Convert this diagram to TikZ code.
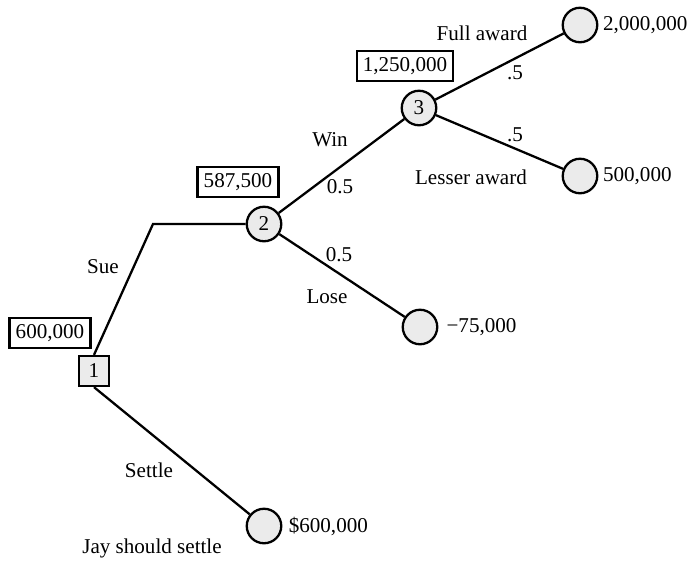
\documentclass[tikz,border=0pt]{standalone}
\usepackage{fontspec}
\setmainfont{Liberation Serif}
\usepackage{tikz}

\begin{document}
\begin{tikzpicture}[x=0.2mm, y=-0.2mm, line width=1.3pt, font=\fontsize{12}{14}\selectfont,
		chance/.style={circle, draw, fill=black!8, minimum size=0.69cm, inner sep=0pt},
		decision/.style={rectangle, draw, fill=black!8, minimum size=0.6cm, inner sep=0pt},
		valbox/.style={rectangle, draw, line width=1.3pt, inner sep=3.5pt},
		lbl/.style={inner sep=0pt}]
			\useasboundingbox (0,0) rectangle (694,569);
			\node[decision] (d1) at (94,371) {1};
			\coordinate (bend) at (153,224);
			\node[chance] (c2) at (264,224) {2};
			\node[chance] (c3) at (419,108) {3};
			\node[chance] (full) at (580,25) {};
			\node[chance] (lesser) at (580,176) {};
			\node[chance] (lose) at (420,327) {};
			\node[chance] (settle) at (264,526) {};
			\draw(d1.north)--(bend)--(c2);
			\draw(d1.south)--(settle);
			\draw(c2)--(c3);
			\draw(c2)--(lose);
			\draw(c3)--(full);
			\draw(c3)--(lesser);
			\node[valbox] (ev1) at (50,333) {600,000};
			\node[valbox] (ev2) at (238,182) {587,500};
			\node[valbox] (ev3) at (405,66) {1,250,000};
			\node[lbl] (sue) at (103,267) {Sue};
			\node[lbl] (win) at (330,140) {Win};
			\node[lbl] (pwin) at (340,187) {0.5};
			\node[lbl] (plose) at (339,255) {0.5};
			\node[lbl] (losetxt) at (327,297) {Lose};
			\node[lbl] (fulltxt) at (482,33) {Full award};
			\node[lbl] (pfull) at (515,73) {.5};
			\node[lbl] (plesser) at (515,135) {.5};
			\node[lbl] (lessertxt) at (471,177) {Lesser award};
			\node[lbl, right=2pt] at (full.east) {2,000,000};
			\node[lbl, right=2pt] at (lesser.east) {500,000};
			\node[lbl, right=4pt] at (lose.east) {−75,000};
			\node[lbl, right=3pt] at (settle.east) {\$600,000};
			\node[lbl] (settletxt) at (149,470) {Settle};
			\node[lbl] (advice) at (152,548) {Jay should settle};
		\end{tikzpicture}
\end{document}
